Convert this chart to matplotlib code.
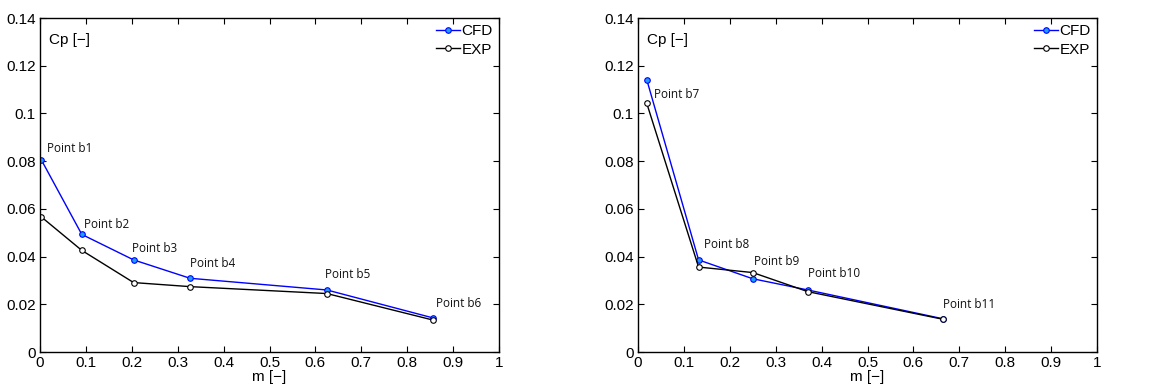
import matplotlib
matplotlib.use("Agg")
import matplotlib.pyplot as plt

plt.rcParams['font.family'] = ['Liberation Sans', 'DejaVu Sans']

# Blade section 1 (points b1-b6)
m_left = [0.003, 0.091, 0.204, 0.327, 0.625, 0.856]
cfd_left = [0.0805, 0.0493, 0.0386, 0.0309, 0.0260, 0.0143]
exp_left = [0.0566, 0.0426, 0.0291, 0.0274, 0.0245, 0.0134]
labels_left = ["Point b1", "Point b2", "Point b3", "Point b4", "Point b5", "Point b6"]

# Blade section 2 (points b7-b11)
m_right = [0.019, 0.132, 0.250, 0.370, 0.665]
cfd_right = [0.1142, 0.0386, 0.0307, 0.0260, 0.0139]
exp_right = [0.1043, 0.0356, 0.0333, 0.0253, 0.0137]
labels_right = ["Point b7", "Point b8", "Point b9", "Point b10", "Point b11"]

xticks = [0, 0.1, 0.2, 0.3, 0.4, 0.5, 0.6, 0.7, 0.8, 0.9, 1]
xticklabels = ["0", "0.1", "0.2", "0.3", "0.4", "0.5", "0.6", "0.7", "0.8", "0.9", "1"]
yticks = [0, 0.02, 0.04, 0.06, 0.08, 0.1, 0.12, 0.14]
yticklabels = ["0", "0.02", "0.04", "0.06", "0.08", "0.1", "0.12", "0.14"]

# label offsets in pixels (dx, dy) relative to the CFD point
offs_left = [(6, 11), (2, 10), (-2, 11), (0, 15), (-2, 15), (3, 14)]
offs_right = [(7, -15), (5, 15), (1, 17), (0, 16), (0, 14)]

fig = plt.figure(figsize=(11.61, 3.90), dpi=100)
ax1 = fig.add_axes([40 / 1161, 1 - 352 / 390, 459 / 1161, 334 / 390])
ax2 = fig.add_axes([638 / 1161, 1 - 352 / 390, 459 / 1161, 334 / 390])

for ax, m, cfd, exp, labels, offs in [
    (ax1, m_left, cfd_left, exp_left, labels_left, offs_left),
    (ax2, m_right, cfd_right, exp_right, labels_right, offs_right),
]:
    ax.plot(m, cfd, color="#0000ff", lw=1.0, marker="o", ms=4,
            mfc="#1e9fff", mec="#0000ff", mew=0.8, label="CFD")
    ax.plot(m, exp, color="black", lw=1.0, marker="o", ms=4,
            mfc="white", mec="black", mew=0.8, label="EXP")
    for x, y, t, (dx, dy) in zip(m, cfd, labels, offs):
        ax.annotate(t, (x, y), xytext=(dx, dy), textcoords="offset pixels",
                    ha="left", va="center", fontsize=8.5,
                    family=["Open Sans", "DejaVu Sans"], color="#111111")
    ax.set_xlim(0, 1)
    ax.set_ylim(0, 0.14)
    ax.set_xticks(xticks)
    ax.set_xticklabels(xticklabels)
    ax.set_yticks(yticks)
    ax.set_yticklabels(yticklabels)
    ax.tick_params(direction="in", length=4, width=0.8, top=True, right=True,
                   labelsize=11, pad=3)
    for s in ax.spines.values():
        s.set_linewidth(1.0)
    ax.text(0.02, 0.935, "Cp [\u2212]", transform=ax.transAxes,
            fontsize=11, ha="left", va="center")
    ax.set_xlabel("m [\u2212]", fontsize=11, labelpad=0)
    leg = ax.legend(loc="upper right", frameon=False, fontsize=11,
                    handlelength=1.6, handletextpad=0.1, borderaxespad=0.2,
                    labelspacing=0.3, borderpad=0.2)

fig.savefig("out.png", dpi=100)
